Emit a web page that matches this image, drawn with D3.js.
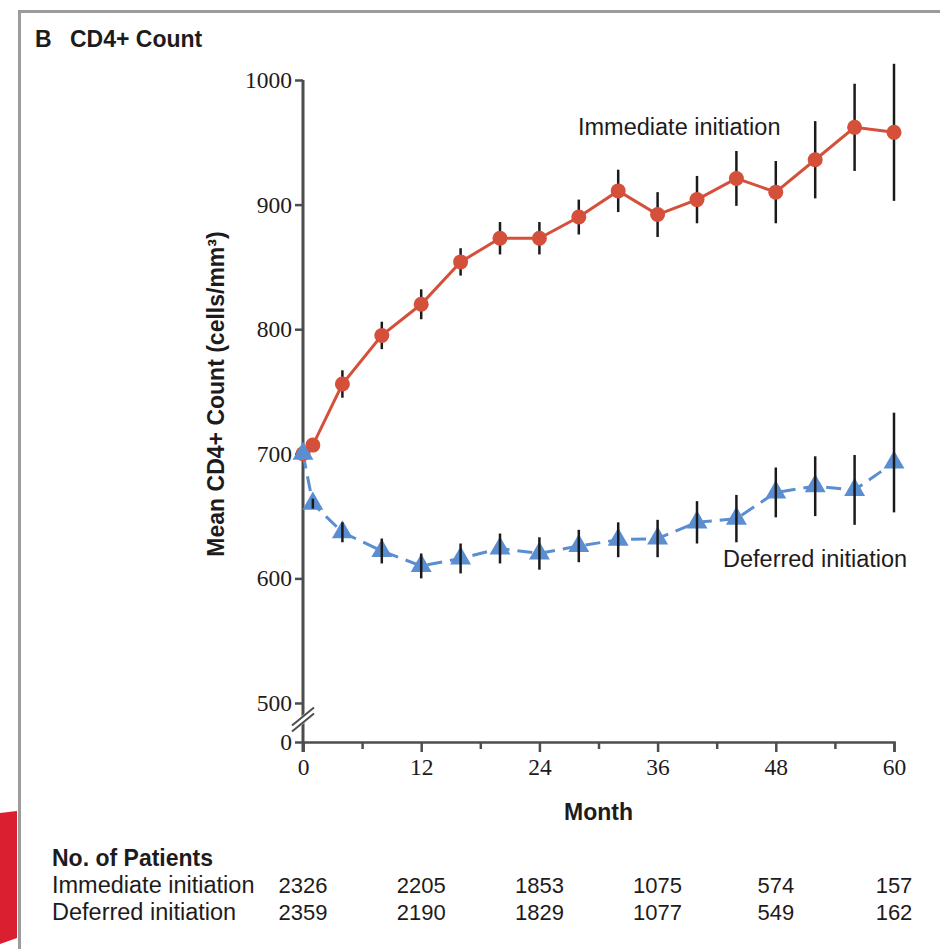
<!DOCTYPE html>
<meta charset="utf-8">
<style>

body {
  margin: 0;
  background: #fff;
}
text {
  font-family: "Liberation Sans", Arial, sans-serif;
  fill: #1e1b1c;
}
.tick text {
  font-family: "Liberation Serif", "Times New Roman", serif;
  font-size: 23.5px;
}
.axis path, .axis line {
  stroke: #4d4d4d;
  stroke-width: 2.5px;
}

</style>
<body>
<script src="https://cdn.jsdelivr.net/npm/d3@7"></script>
<script>
var months = [0, 1, 4, 8, 12, 16, 20, 24, 28, 32, 36, 40, 44, 48, 52, 56, 60];
var immediateMean = [700, 707, 756, 795, 820, 854, 873, 873, 890, 911, 892, 904, 921, 910, 936, 962, 958];
var immediateErr = [0, 4, 11, 11, 12, 11, 13, 13, 14, 17, 18, 19, 22, 25, 31, 35, 55];
var deferredMean = [700, 660, 637, 622, 610, 616, 624, 620, 626, 631, 632, 645, 648, 669, 674, 671, 693];
var deferredErr = [0, 4, 8, 10, 10, 12, 12, 13, 13, 14, 15, 17, 19, 20, 24, 28, 40];

var yTicks = [500, 600, 700, 800, 900, 1000];
var xTicks = [0, 6, 12, 18, 24, 30, 36, 42, 48, 54, 60];
var tableMonths = [0, 12, 24, 36, 48, 60];
var immediatePatients = [2326, 2205, 1853, 1075, 574, 157];
var deferredPatients = [2359, 2190, 1829, 1077, 549, 162];

var width = 940,
    height = 949;

var red = "#d4503a",
    blue = "#5b8ed0";

var x = d3.scaleLinear().domain([0, 60]).range([303, 894]);
var y = d3.scaleLinear().domain([500, 1000]).range([703, 80]);
var zeroY = 742;

var svg = d3.select("body").append("svg")
    .attr("width", width)
    .attr("height", height);

// page furniture: frame and red edge tab
svg.append("line")
    .attr("x1", 18).attr("x2", width).attr("y1", 11.5).attr("y2", 11.5)
    .attr("stroke", "#9c9c9c").attr("stroke-width", 3);
svg.append("line")
    .attr("x1", 19.5).attr("x2", 19.5).attr("y1", 10).attr("y2", height)
    .attr("stroke", "#9c9c9c").attr("stroke-width", 3);
svg.append("path")
    .attr("d", "M0,813L17,811L17,938L0,944Z")
    .attr("fill", "#d91f30");

svg.append("text")
    .attr("x", 35).attr("y", 47)
    .style("font-size", "23px").style("font-weight", "bold")
    .text("B");
svg.append("text")
    .attr("x", 70).attr("y", 47)
    .style("font-size", "23px").style("font-weight", "bold")
    .text("CD4+ Count");

// y axis (upper segment + 0 tick below the break)
var yAxis = svg.append("g")
    .attr("class", "axis")
    .attr("transform", "translate(" + x(0) + ",0)")
    .call(d3.axisLeft(y).tickValues(yTicks).tickFormat(d3.format("d"))
      .tickSize(8).tickSizeOuter(0).tickPadding(3));
yAxis.select(".domain").remove();

var zeroTick = svg.append("g")
    .attr("class", "axis")
    .attr("transform", "translate(" + x(0) + "," + (zeroY - y(0)) + ")")
    .call(d3.axisLeft(y.copy().domain([0, 500]).range([y(0), y(500)])).tickValues([0])
      .tickSize(8).tickSizeOuter(0).tickPadding(3));
zeroTick.select(".domain").remove();

svg.append("line")
    .attr("x1", x(0)).attr("x2", x(0))
    .attr("y1", y(1000)).attr("y2", zeroY + 10)
    .attr("stroke", "#4d4d4d").attr("stroke-width", 3);

// x axis
var xAxis = svg.append("g")
    .attr("class", "axis")
    .attr("transform", "translate(0," + zeroY + ")")
    .call(d3.axisBottom(x).tickValues(xTicks).tickSizeOuter(0).tickSize(10).tickPadding(6)
      .tickFormat(function(d) { return d % 12 === 0 ? d : ""; }));
xAxis.selectAll(".tick line")
    .attr("y2", function(d) { return d % 12 === 0 ? 10 : 7; });

// axis break
var brk = svg.append("g")
    .attr("transform", "translate(" + x(0) + "," + ((y(500) + zeroY) / 2 - 3) + ")");
brk.append("line")
    .attr("x1", -11).attr("y1", 9).attr("x2", 11).attr("y2", -9)
    .attr("stroke", "#fff").attr("stroke-width", 7);
[-3, 3].forEach(function(o) {
  brk.append("line")
      .attr("x1", -11).attr("y1", 9 + o).attr("x2", 11).attr("y2", -9 + o)
      .attr("stroke", "#4d4d4d").attr("stroke-width", 2);
});

svg.append("text")
    .attr("transform", "translate(224,394)rotate(-90)")
    .attr("text-anchor", "middle")
    .style("font-size", "23px").style("font-weight", "bold")
    .text("Mean CD4+ Count (cells/mm³)");

svg.append("text")
    .attr("x", (x(0) + x(60)) / 2).attr("y", 820)
    .attr("text-anchor", "middle")
    .style("font-size", "23px").style("font-weight", "bold")
    .text("Month");

// series
var immediate = months.map(function(m, i) { return {m: m, v: immediateMean[i], e: immediateErr[i]}; });
var deferred = months.map(function(m, i) { return {m: m, v: deferredMean[i], e: deferredErr[i]}; });

var line = d3.line()
    .x(function(d) { return x(d.m); })
    .y(function(d) { return y(d.v); });

svg.append("path")
    .datum(deferred)
    .attr("d", line)
    .attr("fill", "none")
    .attr("stroke", blue)
    .attr("stroke-width", 3)
    .attr("stroke-dasharray", "15 8");

svg.append("g").selectAll("line")
    .data(immediate.filter(function(d) { return d.e > 0; }))
  .enter().append("line")
    .attr("x1", function(d) { return x(d.m); })
    .attr("x2", function(d) { return x(d.m); })
    .attr("y1", function(d) { return y(d.v - d.e); })
    .attr("y2", function(d) { return y(d.v + d.e); })
    .attr("stroke", "#1a1a1a")
    .attr("stroke-width", 2.5);

svg.append("path")
    .datum(immediate)
    .attr("d", line)
    .attr("fill", "none")
    .attr("stroke", red)
    .attr("stroke-width", 3);

svg.append("g").selectAll("circle")
    .data(immediate)
  .enter().append("circle")
    .attr("cx", function(d) { return x(d.m); })
    .attr("cy", function(d) { return y(d.v); })
    .attr("r", 7.5)
    .attr("fill", red);

svg.append("g").selectAll("path")
    .data(deferred)
  .enter().append("path")
    .attr("transform", function(d) { return "translate(" + x(d.m) + "," + y(d.v) + ")"; })
    .attr("d", d3.symbol().type(d3.symbolTriangle).size(190))
    .attr("fill", blue);

svg.append("g").selectAll("line")
    .data(deferred.filter(function(d) { return d.e > 0; }))
  .enter().append("line")
    .attr("x1", function(d) { return x(d.m); })
    .attr("x2", function(d) { return x(d.m); })
    .attr("y1", function(d) { return y(d.v - d.e); })
    .attr("y2", function(d) { return y(d.v + d.e); })
    .attr("stroke", "#1a1a1a")
    .attr("stroke-width", 2.5);

svg.append("text")
    .attr("x", 578).attr("y", 135)
    .style("font-size", "23.5px")
    .text("Immediate initiation");
svg.append("text")
    .attr("x", 723).attr("y", 567)
    .style("font-size", "23.5px")
    .text("Deferred initiation");

// number at risk table
svg.append("text")
    .attr("x", 52).attr("y", 866)
    .style("font-size", "23px").style("font-weight", "bold")
    .text("No. of Patients");

var rows = [
  {label: "Immediate initiation", values: immediatePatients, y: 893},
  {label: "Deferred initiation", values: deferredPatients, y: 920}
];

rows.forEach(function(r) {
  svg.append("text")
      .attr("x", 52).attr("y", r.y)
      .style("font-size", "23.5px")
      .text(r.label);
  svg.append("g").selectAll("text")
      .data(r.values)
    .enter().append("text")
      .attr("x", function(d, i) { return x(tableMonths[i]); })
      .attr("y", r.y)
      .attr("text-anchor", "middle")
      .style("font-size", "22px")
      .text(function(d) { return d; });
});

</script>
